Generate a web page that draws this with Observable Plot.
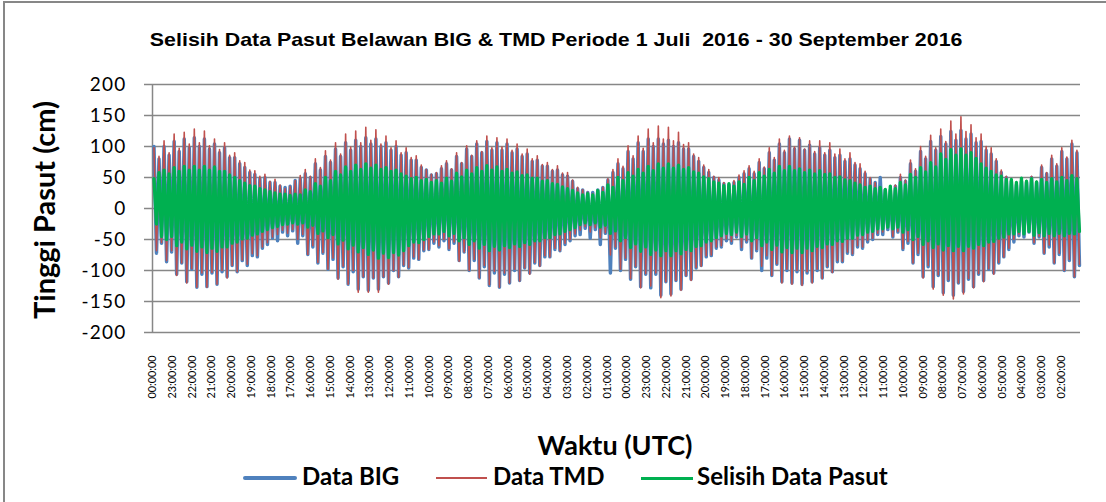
<!DOCTYPE html>
<html><head><meta charset="utf-8">
<script src="https://cdn.jsdelivr.net/npm/d3@7"></script>
<script src="https://cdn.jsdelivr.net/npm/@observablehq/plot@0.6"></script>
<style>
html,body{margin:0;padding:0;background:#fff;}
#wrap{position:relative;width:1106px;height:502px;overflow:hidden;background:#fff;}
#border{position:absolute;left:3px;top:1px;right:-10px;bottom:-10px;border-left:2px solid #878787;border-top:2px solid #878787;}
#title{position:absolute;left:6px;width:1100px;top:30px;text-align:center;font:bold 19px "Liberation Sans",Arial,sans-serif;line-height:19px;white-space:nowrap;color:#000;}
#title span{display:inline-block;transform:scaleX(1.125);}
#chart{position:absolute;left:0;top:60px;}
#chart g[aria-label="y-axis tick label"] text{letter-spacing:1.2px;}
#ytitle{position:absolute;left:43px;top:210px;transform:translate(-50%,-50%) rotate(-90deg);font:bold 29px Lato,sans-serif;line-height:29px;white-space:nowrap;color:#000;}
#xtitle{position:absolute;left:0;width:1230px;top:431px;text-align:center;font:bold 27px Lato,sans-serif;line-height:27px;white-space:nowrap;color:#000;}
.lg-line{position:absolute;}
.lg-text{position:absolute;top:464px;font:bold 24px Lato,sans-serif;line-height:24px;white-space:nowrap;color:#000;}
</style>
</head><body>
<div id="wrap">
  <div id="border"></div>
  <div id="title"><span></span></div>
  <div id="ytitle"></div>
  <div id="chart"></div>
  <div id="xtitle"></div>
  <div id="legend"></div>
</div>
<script>
const titleText = "Selisih Data Pasut Belawan BIG & TMD Periode 1 Juli\u00a0 2016 - 30 September 2016";
const yTitle = "Tinggi Pasut (cm)";
const xTitle = "Waktu (UTC)";
const seriesNames = ["Data BIG", "Data TMD", "Selisih Data Pasut"];
const seriesColors = ["#4F81BD", "#C0504D", "#00B050"];
const yTicks = [-200, -150, -100, -50, 0, 50, 100, 150, 200];
const tickHours = [0,47,94,141,188,235,282,329,376,423,470,517,564,611,658,705,752,799,846,893,940,987,1034,1081,1128,1175,1222,1269,1316,1363,1410,1457,1504,1551,1598,1645,1692,1739,1786,1833,1880,1927,1974,2021,2068,2115,2162];
const tickLabels = ["00:00:00","23:00:00","22:00:00","21:00:00","20:00:00","19:00:00","18:00:00","17:00:00","16:00:00","15:00:00","14:00:00","13:00:00","12:00:00","11:00:00","10:00:00","09:00:00","08:00:00","07:00:00","06:00:00","05:00:00","04:00:00","03:00:00","02:00:00","01:00:00","00:00:00","23:00:00","22:00:00","21:00:00","20:00:00","19:00:00","18:00:00","17:00:00","16:00:00","15:00:00","14:00:00","13:00:00","12:00:00","11:00:00","10:00:00","09:00:00","08:00:00","07:00:00","06:00:00","05:00:00","04:00:00","03:00:00","02:00:00"];

// high / low water per tide (two tides per day)
const tmdHigh = [
98,84,109,90,120,97,123,104,128,106,125,101,112,95,106,86,90,77,74,62,
61,52,55,44,47,38,32,36,45,53,63,52,80,66,93,78,106,88,120,99,
125,106,131,110,127,104,117,98,109,90,98,82,85,70,63,55,58,69,77,64,
90,74,101,86,109,92,117,98,114,99,112,94,104,88,96,80,85,71,74,63,
69,57,58,46,34,30,26,24,29,34,48,63,80,68,101,85,117,97,128,106,
133,112,131,109,123,103,106,88,82,70,63,52,50,42,39,45,54,61,69,60,
80,67,98,82,112,94,117,99,114,96,109,92,109,90,106,88,96,80,90,74,
72,60,50,42,34,29,30,38,55,46,78,64,100,84,118,98,128,108,141,120,
148,124,135,114,120,100,98,80,62,52,44,38,42,45,52,44,70,58,86,72,
98,83,110,94];
const tmdLow = [
-68,-55,-84,-68,-108,-88,-120,-97,-127,-104,-127,-103,-122,-100,-112,-92,-102,-83,-90,-73,
-76,-62,-55,-46,-42,-35,-40,-34,-50,-42,-74,-60,-87,-71,-98,-80,-114,-93,-122,-100,
-135,-110,-135,-112,-135,-110,-122,-100,-111,-91,-95,-78,-82,-67,-66,-54,-60,-50,-65,-54,
-85,-70,-100,-82,-112,-92,-123,-101,-127,-104,-120,-98,-117,-96,-106,-87,-93,-76,-78,-64,
-68,-56,-50,-41,-35,-29,-38,-31,-47,-39,-75,-62,-98,-80,-113,-93,-128,-105,-125,-104,
-144,-118,-141,-116,-132,-108,-116,-95,-93,-76,-75,-62,-60,-49,-53,-44,-63,-52,-80,-66,
-93,-76,-108,-89,-120,-98,-122,-100,-124,-102,-120,-98,-113,-93,-103,-84,-85,-70,-73,-60,
-62,-51,-48,-40,-38,-31,-45,-37,-65,-53,-88,-72,-112,-92,-130,-107,-140,-115,-146,-120,
-138,-113,-128,-105,-118,-97,-106,-87,-78,-64,-50,-41,-42,-35,-55,-45,-72,-59,-88,-72,
-100,-82,-110,-90];
const bigHigh = [
100,80,100,86,108,92,112,98,114,100,112,96,104,90,98,82,82,72,66,58,
55,48,50,42,42,36,34,36,45,48,56,50,72,62,84,74,96,84,106,94,
110,100,114,104,112,100,106,94,100,86,90,78,78,66,62,54,56,64,72,62,
84,72,96,84,104,90,108,94,106,94,104,90,96,84,88,76,78,68,68,60,
62,54,52,44,32,30,26,26,30,34,46,58,72,64,92,80,106,92,112,100,
112,104,110,100,106,96,96,84,76,66,58,50,46,40,38,42,50,56,64,56,
74,64,90,78,104,90,112,96,110,94,102,88,98,86,94,82,86,76,80,70,
64,56,48,42,50,30,30,36,50,44,72,60,92,80,108,94,116,104,124,110,
126,112,120,106,108,94,88,76,58,50,44,38,44,42,50,42,66,56,80,68,
92,80,104,90];
const bigLow = [
-72,-56,-86,-70,-106,-88,-118,-98,-127,-106,-126,-104,-122,-102,-110,-92,-102,-84,-92,-76,
-78,-64,-58,-48,-52,-38,-44,-36,-56,-44,-74,-62,-88,-72,-98,-82,-112,-94,-122,-102,
-130,-110,-132,-112,-130,-110,-120,-100,-110,-92,-96,-80,-82,-68,-66,-56,-62,-52,-66,-56,
-84,-70,-100,-84,-112,-94,-124,-104,-127,-106,-120,-100,-116,-96,-104,-88,-92,-78,-78,-66,
-68,-58,-52,-44,-42,-32,-48,-34,-58,-40,-104,-64,-100,-82,-114,-94,-126,-106,-128,-106,
-140,-118,-138,-116,-130,-108,-114,-96,-92,-78,-76,-64,-62,-52,-56,-46,-66,-54,-80,-68,
-100,-80,-108,-90,-118,-100,-120,-102,-122,-104,-118,-100,-112,-94,-102,-86,-86,-72,-74,-62,
-64,-54,-50,-42,-42,-34,-46,-38,-66,-56,-88,-74,-110,-94,-126,-108,-136,-116,-140,-120,
-134,-114,-126,-106,-116,-98,-104,-88,-78,-66,-54,-44,-46,-38,-56,-46,-72,-62,-88,-74,
-100,-84,-110,-92];
const selHigh = [
48,58,62,56,66,60,68,62,68,62,68,62,67,60,60,54,50,45,41,37,
36,32,30,27,25,23,23,21,23,22,30,27,40,36,50,45,60,54,67,60,
70,63,72,65,70,63,66,60,62,56,52,48,50,45,47,42,45,41,49,44,
57,51,62,56,66,60,69,62,67,60,63,57,59,53,54,49,49,44,45,40,
39,35,32,29,25,22,24,22,29,26,38,34,50,45,58,52,63,57,68,61,
72,65,72,65,70,63,66,59,57,51,48,43,41,37,40,36,43,39,50,45,
58,52,63,57,68,61,68,61,64,58,62,56,61,55,56,50,51,46,45,41,
38,34,36,32,34,31,36,32,42,38,55,50,66,59,74,67,88,79,95,86,
96,86,90,81,72,65,60,54,52,47,47,42,49,44,48,43,47,42,48,43,
50,45,53,48];
const selLow = [
-25,-45,-50,-45,-60,-54,-65,-59,-69,-62,-71,-64,-69,-62,-62,-56,-54,-49,-48,-43,
-41,-37,-34,-31,-29,-26,-25,-23,-25,-23,-30,-27,-40,-36,-47,-42,-57,-51,-65,-59,
-70,-63,-74,-67,-80,-72,-79,-71,-75,-68,-60,-54,-55,-50,-45,-41,-41,-37,-44,-40,
-52,-47,-58,-52,-64,-58,-68,-61,-67,-60,-63,-57,-61,-55,-58,-52,-52,-47,-47,-42,
-41,-37,-34,-31,-26,-23,-26,-23,-30,-27,-40,-36,-52,-47,-63,-57,-69,-62,-74,-67,
-76,-68,-76,-68,-73,-66,-68,-61,-60,-54,-52,-47,-44,-40,-42,-38,-45,-41,-52,-47,
-60,-54,-66,-59,-70,-63,-71,-64,-71,-64,-68,-61,-63,-57,-58,-52,-53,-48,-48,-43,
-42,-38,-37,-33,-33,-30,-33,-30,-38,-34,-50,-45,-58,-52,-63,-57,-67,-60,-68,-61,
-68,-61,-64,-58,-60,-54,-53,-48,-46,-41,-41,-37,-41,-37,-43,-39,-44,-40,-44,-40,
-44,-40,-41,-37];

// each tide: high water then low water, placed on the hourly time index
function toPoints(name, highs, lows) {
  const pts = [];
  highs.forEach((h, c) => {
    pts.push({series: name, hour: 12 * c + 3, value: h});
    pts.push({series: name, hour: 12 * c + 9, value: lows[c]});
  });
  return pts;
}
const big = toPoints(seriesNames[0], bigHigh, bigLow);
const tmd = toPoints(seriesNames[1], tmdHigh, tmdLow);
const sel = toPoints(seriesNames[2], selHigh, selLow);

document.querySelector("#title span").textContent = titleText;
document.getElementById("ytitle").textContent = yTitle;
document.getElementById("xtitle").textContent = xTitle;

const chart = Plot.plot({
  width: 1106,
  height: 360,
  marginLeft: 152,
  marginRight: 26,
  marginTop: 24,
  marginBottom: 88,
  x: {domain: [-0.5, 2207.5], axis: null},
  y: {domain: [-200, 200], axis: null},
  style: {fontFamily: "Lato, sans-serif", background: "transparent", color: "black", overflow: "visible"},
  marks: [
    Plot.gridY({ticks: yTicks, stroke: "#878787", strokeOpacity: 1, strokeWidth: 1.5}),
    Plot.ruleX([-0.5], {stroke: "#878787", strokeWidth: 1.5}),
    Plot.line(big, {x: "hour", y: "value", stroke: seriesColors[0], strokeWidth: 3.5, strokeLinejoin: "round"}),
    Plot.line(tmd, {x: "hour", y: "value", stroke: seriesColors[1], strokeWidth: 1.6, strokeLinejoin: "round"}),
    Plot.line(sel, {x: "hour", y: "value", stroke: seriesColors[2], strokeWidth: 3.3, strokeLinejoin: "round"}),
    Plot.axisY({ticks: yTicks, label: null, tickSize: 8, tickPadding: 18, tickFormat: d => String(d), fontSize: 19, stroke: "#878787", strokeWidth: 1.5, color: "black"}),
    Plot.text(tickHours, {x: d => d, text: (d, i) => tickLabels[i], frameAnchor: "bottom", rotate: -90, textAnchor: "end", lineAnchor: "middle", dy: 23, fontSize: 10.8, fill: "black"})
  ]
});
document.getElementById("chart").appendChild(chart);

// legend
const legendLines = [
  {left: 243, width: 54, top: 476, height: 4},
  {left: 436, width: 51, top: 477.2, height: 1.6},
  {left: 641, width: 52, top: 476.5, height: 3}
];
const legendTextLeft = [302, 493, 697];
const legend = document.getElementById("legend");
seriesNames.forEach((name, i) => {
  const l = document.createElement("div");
  l.className = "lg-line";
  Object.assign(l.style, {left: legendLines[i].left + "px", width: legendLines[i].width + "px", top: legendLines[i].top + "px", height: legendLines[i].height + "px", background: seriesColors[i], borderRadius: i === 0 ? "2px" : "0"});
  legend.appendChild(l);
  const t = document.createElement("div");
  t.className = "lg-text";
  t.style.left = legendTextLeft[i] + "px";
  t.textContent = name;
  legend.appendChild(t);
});
</script>
</body></html>
